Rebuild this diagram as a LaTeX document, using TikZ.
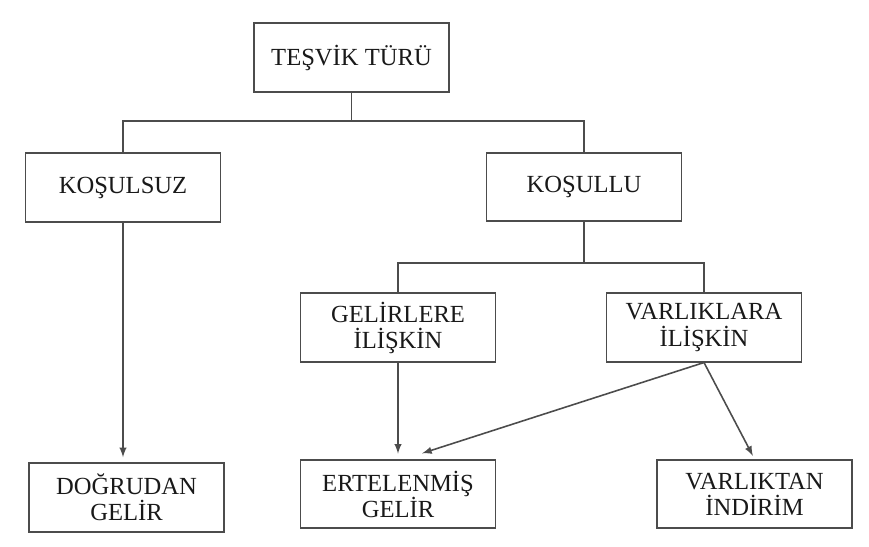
\documentclass[tikz,border=0pt]{standalone}
\usepackage{fontspec}
\setmainfont{Liberation Serif}
\usepackage{tikz}

\begin{document}
\begin{tikzpicture}[x=0.02cm,y=-0.02cm,
  kutu/.style={draw=black!70,line width=0.9pt,minimum width=3.9cm,minimum height=1.37cm,
    align=center,inner sep=0pt,text=black!90,font=\fontsize{14}{14.8}\selectfont},
  hat/.style={draw=black!70,line width=0.9pt}]
	  \useasboundingbox (0,0) rectangle (869,547);
	  \node[kutu] (tur) at (351.5,57.5) {TEŞVİK TÜRÜ};
	  \node[kutu] (kosulsuz) at (123,187.5) {KOŞULSUZ};
	  \node[kutu] (kosullu) at (584,187) {KOŞULLU};
	  \node[kutu] (gelir) at (398,327.5) {GELİRLERE\\İLİŞKİN};
	  \node[kutu] (varlik) at (704,327.5) {VARLIKLARA\\İLİŞKİN};
	  \node[kutu] (dogrudan) at (126.5,497.5) {DOĞRUDAN\\GELİR};
	  \node[kutu] (ertelenmis) at (398,494) {ERTELENMİŞ\\GELİR};
	  \node[kutu] (indirim) at (754.5,494) {VARLIKTAN\\İNDİRİM};
	  \coordinate (b1) at (351.5,121);
	  \coordinate (b2) at (584,263);
	  \draw[hat](tur.south) -- (b1);
	  \draw[hat](kosulsuz.north) |- (b1) -| (kosullu.north);
	  \draw[hat](kosullu.south) -- (b2);
	  \draw[hat](gelir.north) |- (b2) -| (varlik.north);
	  \draw[hat,->,>=latex,shorten >=3pt](kosulsuz.south) -- (kosulsuz.south |- dogrudan.north);
	  \draw[hat,->,>=latex,shorten >=3pt](gelir.south) -- (ertelenmis.north);
	  \draw[hat,->,>=latex,shorten >=3pt](varlik.south) -- ([xshift=0.38cm,yshift=0.08cm]ertelenmis.north);
	  \draw[hat,->,>=latex,shorten >=2pt](varlik.south) -- (indirim.north);
	\end{tikzpicture}
\end{document}
